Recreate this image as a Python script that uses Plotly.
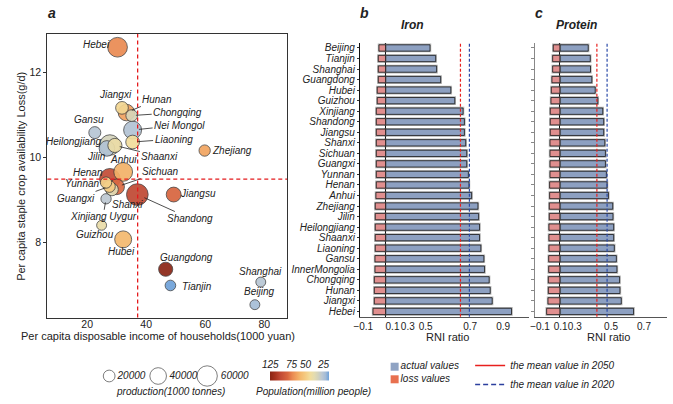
import plotly.graph_objects as go

W, H = 673, 404

# ── panel a: loss vs income ──────────────────────────────────────────────────
provinces = ["Hebei", "Jiangxi", "Hunan", "Chongqing", "Nei Mongol", "Gansu",
             "Liaoning", "Heilongjiang", "Shaanxi", "Jilin", "Zhejiang", "Anhui",
             "Henan", "Yunnan", "Guangxi", "Shanxi", "Sichuan", "Xinjiang Uygur",
             "Shandong", "Jiangsu", "Guizhou", "Hubei", "Guangdong", "Tianjin",
             "Shanghai", "Beijing"]
income = [30.3, 31.8, 33.3, 35.1, 35.4, 22.6, 35.4, 27.7, 29.4, 26.7, 59.8, 32.2,
          27.7, 26.4, 27.5, 28.4, 30.0, 26.4, 37.0, 49.3, 24.9, 32.2, 46.6, 48.2,
          78.8, 76.8]
loss = [12.58, 11.16, 11.05, 10.98, 10.64, 10.58, 10.36, 10.29, 10.28, 10.21, 10.16, 9.66,
        9.50, 9.41, 9.32, 9.25, 9.31, 9.03, 9.13, 9.13, 8.41, 8.08, 7.38, 7.00,
        7.08, 6.55]
production = [56000, 23400, 39500, 20000, 46600, 20900, 27200, 60800, 28900, 35000,
              18500, 51100, 60800, 18500, 20900, 23400, 35000, 15400, 67700, 31900,
              14200, 41600, 28900, 16300, 14200, 14200]
population = [74, 45, 66, 32, 24, 25, 42, 31, 39, 24, 65, 61, 99, 47, 50, 35, 83, 26,
              101, 85, 38, 58, 126, 14, 25, 22]
mean_income = 37.1
mean_loss = 9.49
size_legend = [20000, 40000, 60000]
pop_ticks = [125, 75, 50, 25]

# label offsets (px from the point) and whether a leader line is drawn
label_dx = [-21, -6, 31, 46, 47, -6, 41, -36, 45, -10, 27, 0, -22, -24, -33, 16, 44,
            -3, 53, 24, -7, -2, 21, 27, 0, 4]
label_dy = [-3, -13, -13, -3, -5, -13, -3, -4, 11, 8, 0, -12, -6, 1, 12, 15, -15, 18,
            24, -1, 9, 12, -12, 1, -11, -13]
label_leader = [False, False, True, True, True, False, True, False, True, False, False,
                False, False, False, True, False, True, True, True, False, False, False,
                False, False, False, False]

# ── panels b, c: RNI ratios ──────────────────────────────────────────────────
rank = ["Beijing", "Tianjin", "Shanghai", "Guangdong", "Hubei", "Guizhou", "Xinjiang",
        "Shandong", "Jiangsu", "Shanxi", "Sichuan", "Guangxi", "Yunnan", "Henan",
        "Anhui", "Zhejiang", "Jilin", "Heilongjiang", "Shaanxi", "Liaoning", "Gansu",
        "InnerMongolia", "Chongqing", "Hunan", "Jiangxi", "Hebei"]
iron_actual = [0.338, 0.381, 0.388, 0.419, 0.496, 0.526, 0.589, 0.599, 0.599, 0.609,
               0.617, 0.617, 0.629, 0.634, 0.654, 0.702, 0.707, 0.714, 0.714, 0.724,
               0.747, 0.752, 0.787, 0.795, 0.810, 0.957]
iron_loss = [0.050, 0.055, 0.055, 0.055, 0.063, 0.063, 0.070, 0.070, 0.070, 0.070,
             0.070, 0.070, 0.070, 0.070, 0.073, 0.078, 0.078, 0.078, 0.078, 0.078,
             0.080, 0.080, 0.085, 0.085, 0.085, 0.095]
protein_actual = [0.236, 0.253, 0.255, 0.266, 0.294, 0.316, 0.357, 0.365, 0.365, 0.374,
                  0.379, 0.379, 0.387, 0.393, 0.404, 0.440, 0.442, 0.448, 0.448, 0.453,
                  0.470, 0.475, 0.497, 0.500, 0.511, 0.613]
protein_loss = [0.055, 0.060, 0.060, 0.066, 0.071, 0.074, 0.080, 0.080, 0.080, 0.082,
                0.082, 0.082, 0.082, 0.085, 0.085, 0.088, 0.088, 0.091, 0.091, 0.091,
                0.093, 0.093, 0.096, 0.096, 0.099, 0.110]
iron_mean_2050, iron_mean_2020 = 0.569, 0.637
protein_mean_2050, protein_mean_2020 = 0.308, 0.393
iron_tick_pos = [-0.169, 0.053, 0.169, 0.305, 0.643, 0.893]
iron_tick_text = ["\u22120.1", "0.1", "0.3", "0.5", "0.7", "0.9"]
protein_tick_pos = [-0.165, 0.006, 0.124, 0.426, 0.70]
protein_tick_text = ["\u22120.1", "0.1", "0.3", "0.5", "0.7"]

FONT = "Arial, Liberation Sans, sans-serif"
INK = "#222222"
BLUE_BAR = "#8da0c1"
PINK_BAR = "#e08f8f"
# colour runs on a square-root population scale, large populations on the left
CMIN, CMAX = -127 ** 0.5, -18 ** 0.5
POP_SCALE = [[0, "#8a2414"], [0.09, "#a8331f"], [0.18, "#c24a35"], [0.3, "#d9663f"],
             [0.38, "#ea8a52"], [0.45, "#f1a25f"], [0.51, "#f4b76c"], [0.6, "#f5cb82"],
             [0.68, "#f2dd9c"], [0.75, "#e4dcb0"], [0.81, "#d4d3bb"], [0.88, "#bcc8d3"],
             [0.94, "#a5bcd6"], [1, "#6ea1d9"]]
SIZEREF = 289  # diameter = sqrt(production / SIZEREF)
CB_X0, CB_X1, CB_Y = 266, 326, 376


def fx(p):
    return p / W


def fy(p):
    return 1 - p / H


def pop_colour(p):
    return -(p ** 0.5)


fig = go.Figure()

# bubbles, big ones first so small ones sit on top
order = sorted(range(len(provinces)), key=lambda i: -production[i])
fig.add_trace(go.Scatter(
    x=[income[i] for i in order], y=[loss[i] for i in order],
    mode="markers", showlegend=False, hoverinfo="text",
    text=[provinces[i] for i in order],
    marker=dict(size=[production[i] for i in order], sizemode="area", sizeref=SIZEREF,
                color=[pop_colour(population[i]) for i in order], cmin=CMIN, cmax=CMAX,
                colorscale=POP_SCALE, opacity=0.92,
                line=dict(color="#3a3a3a", width=0.8),
                colorbar=dict(orientation="h", x=fx((CB_X0 + CB_X1) / 2), xanchor="center",
                              y=fy(CB_Y), yanchor="middle", len=(CB_X1 - CB_X0) / W,
                              thickness=9, outlinewidth=0, showticklabels=False,
                              ticks="", xpad=0, ypad=0)),
    xaxis="x", yaxis="y"))

annotations = []
for i, name in enumerate(provinces):
    r = (production[i] / SIZEREF) ** 0.5 / 2
    a = dict(x=income[i], y=loss[i], xref="x", yref="y", text=name,
             xanchor="center", yanchor="middle",
             font=dict(family=FONT, size=10, color=INK, style="italic"))
    if label_leader[i]:
        a.update(showarrow=True, arrowhead=0, arrowwidth=0.8, arrowcolor=INK,
                 ax=label_dx[i], ay=label_dy[i], standoff=r)
    else:
        a.update(showarrow=False, xshift=label_dx[i], yshift=-label_dy[i])
    annotations.append(a)

# size legend
fig.add_trace(go.Scatter(
    x=list(range(len(size_legend))), y=[0] * len(size_legend),
    mode="markers+text", showlegend=False, hoverinfo="skip", cliponaxis=False,
    text=[str(v) for v in size_legend], textposition="middle right",
    textfont=dict(family=FONT, size=10, color=INK, style="italic"),
    marker=dict(size=size_legend, sizemode="area", sizeref=SIZEREF, color="white",
                line=dict(color="#333", width=0.9)),
    xaxis="x4", yaxis="y4"))

# colorbar tick labels above the bar
for v in pop_ticks:
    f = (pop_colour(v) - CMIN) / (CMAX - CMIN)
    annotations.append(dict(x=fx(CB_X0 + f * (CB_X1 - CB_X0)), y=fy(364),
                            xref="paper", yref="paper", text=str(v), showarrow=False,
                            xanchor="center", yanchor="middle",
                            font=dict(family=FONT, size=10, color=INK, style="italic")))


def add_bars(actual, lost, xa, ya):
    neg = [-v for v in lost]
    for vals, colour in ((actual, BLUE_BAR), (neg, PINK_BAR)):
        # soft grey halo, then the crisp outlined bar
        fig.add_trace(go.Bar(x=vals, y=rank, orientation="h", width=0.6,
                             marker=dict(color=colour,
                                         line=dict(color="rgba(90,90,90,0.45)", width=2.4)),
                             showlegend=False, hoverinfo="skip", xaxis=xa, yaxis=ya))
        fig.add_trace(go.Bar(x=vals, y=rank, orientation="h", width=0.6,
                             marker=dict(color=colour, line=dict(color="#1a1a1a", width=0.8)),
                             showlegend=False, xaxis=xa, yaxis=ya))


add_bars(iron_actual, iron_loss, "x2", "y2")
add_bars(protein_actual, protein_loss, "x3", "y3")

# legend entries for the mean lines
fig.add_trace(go.Scatter(x=[None], y=[None], mode="lines", name="the mean value in 2050",
                         line=dict(color="#e8201e", width=1.5), xaxis="x2", yaxis="y2"))
fig.add_trace(go.Scatter(x=[None], y=[None], mode="lines", name="the mean value in 2020",
                         line=dict(color="#2b3f9e", width=1.5, dash="5px,3px"),
                         xaxis="x2", yaxis="y2"))

# bar legend squares
bar_legend = ["actual values", "loss values"]
fig.add_trace(go.Scatter(
    x=[0, 0], y=[1, 0], mode="markers+text", showlegend=False, hoverinfo="skip",
    cliponaxis=False, text=bar_legend, textposition="middle right",
    textfont=dict(family=FONT, size=10, color=INK, style="italic"),
    marker=dict(symbol="square", size=8, color=["#8fa3c3", "#e8704f"]),
    xaxis="x5", yaxis="y5"))

shapes = [
    dict(type="line", xref="x", yref="y domain", x0=mean_income, x1=mean_income, y0=0, y1=1,
         line=dict(color="#e41a1c", width=1.3, dash="4px,3px")),
    dict(type="line", xref="x domain", yref="y", x0=0, x1=1, y0=mean_loss, y1=mean_loss,
         line=dict(color="#e41a1c", width=1.3, dash="4px,3px")),
]
for xa, ya, m50, m20 in (("x2", "y2", iron_mean_2050, iron_mean_2020),
                         ("x3", "y3", protein_mean_2050, protein_mean_2020)):
    shapes.append(dict(type="line", xref=xa, yref=ya + " domain", x0=m50, x1=m50, y0=0, y1=1,
                       line=dict(color="#e8201e", width=1.2, dash="3px,2px")))
    shapes.append(dict(type="line", xref=xa, yref=ya + " domain", x0=m20, x1=m20, y0=0, y1=1,
                       line=dict(color="#2b4aa8", width=1.2, dash="3px,2px")))


def text(x, y, s, size=11, style="normal", weight="normal", angle=0):
    annotations.append(dict(x=fx(x), y=fy(y), xref="paper", yref="paper", text=s,
                            showarrow=False, textangle=angle,
                            xanchor="center", yanchor="middle",
                            font=dict(family=FONT, size=size, color=INK, style=style,
                                      weight=weight)))


text(45, 13, "a", 14, "italic", "bold")
text(361, 13, "b", 14, "italic", "bold")
text(538, 13, "c", 14, "italic", "bold")
text(410, 25, "Iron", 12, "italic", "bold")
text(575, 25, "Protein", 12, "italic", "bold")
text(153, 336, "Per capita disposable income of households(1000 yuan)", 11)
text(14, 176, "Per capita staple crop availability Loss(g/d)", 11, angle=-90)
text(445, 337, "RNI ratio", 11)
text(608, 337, "RNI ratio", 11)
text(165, 391, "production(1000 tonnes)", 10, "italic")
text(310, 391, "Population(million people)", 10, "italic")

frame = dict(showline=True, linecolor="#333", linewidth=1, mirror=True, showgrid=False,
             zeroline=False, tickcolor="#333",
             tickfont=dict(family=FONT, size=10.5, color=INK))
hidden = dict(visible=False, fixedrange=True)
bar_x = dict(ticks="", tickangle=0, showline=True, linecolor="#555", linewidth=1,
             showgrid=False, zeroline=True, zerolinecolor="#111", zerolinewidth=1.3,
             tickfont=dict(family=FONT, size=10, color=INK))
bar_y = dict(domain=[fy(316.7), fy(42.7)], type="category", categoryorder="array",
             categoryarray=rank, autorange="reversed", tickmode="array", tickvals=rank,
             ticktext=rank, showline=True, linewidth=1.2, showgrid=False,
             ticks="outside")

fig.update_layout(
    width=W, height=H, autosize=False,
    margin=dict(l=0, r=0, t=0, b=0),
    paper_bgcolor="white", plot_bgcolor="rgba(0,0,0,0)",
    font=dict(family=FONT, color=INK),
    barmode="overlay",
    xaxis=dict(frame, domain=[fx(40.7), fx(283)], range=[6.5, 87.7], ticks="",
               ticklabelstandoff=-3, tickvals=[20, 40, 60, 80], anchor="y"),
    yaxis=dict(frame, domain=[fy(317.5), fy(34)], range=[6.25, 12.89], ticks="outside",
               ticklen=3, tickvals=[8, 10, 12], anchor="x"),
    xaxis2=dict(bar_x, domain=[fx(356.7), fx(527)], range=[-0.194, 1.086], anchor="y2",
                tickvals=iron_tick_pos, ticktext=iron_tick_text),
    yaxis2=dict(bar_y, anchor="x2", linecolor="#111", ticklen=2, tickcolor="#333",
                tickfont=dict(family=FONT, size=10, color=INK, style="italic")),
    xaxis3=dict(bar_x, domain=[fx(533.3), fx(667)], range=[-0.209, 0.892], anchor="y3",
                tickvals=protein_tick_pos, ticktext=protein_tick_text),
    yaxis3=dict(bar_y, anchor="x3", linecolor="#888", ticklen=3, tickcolor="#888",
                showticklabels=False),
    xaxis4=dict(hidden, domain=[fx(78.5), fx(227)], range=[-0.5, 2.5], anchor="y4"),
    yaxis4=dict(hidden, domain=[fy(386), fy(366)], range=[-1, 1], anchor="x4"),
    xaxis5=dict(hidden, domain=[fx(381.7), fx(401.7)], range=[-1, 1], anchor="y5"),
    yaxis5=dict(hidden, domain=[fy(385.6), fy(360.4)], range=[-0.5, 1.5], anchor="x5"),
    showlegend=True,
    legend=dict(x=fx(468), y=fy(351), xanchor="left", yanchor="top",
                bgcolor="rgba(0,0,0,0)", font=dict(family=FONT, size=10, color=INK,
                                                    style="italic"),
                tracegroupgap=0, itemwidth=30),
    shapes=shapes,
    annotations=annotations,
)

# the browser's default 8px body margin would push the figure off its frame
fig.write_html("out.html", config={"displayModeBar": False},
               post_script="document.body.style.margin = '0px';")
